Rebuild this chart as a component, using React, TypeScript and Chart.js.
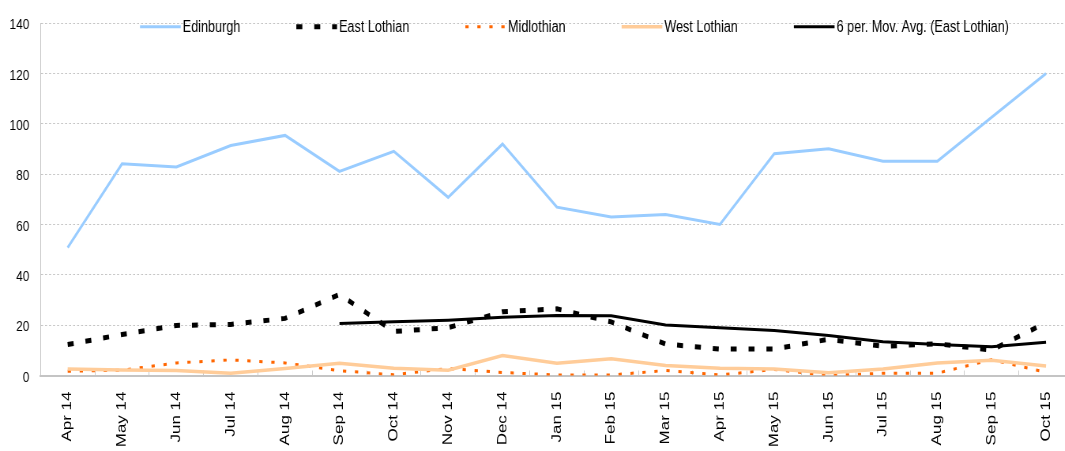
import React, { useEffect, useRef } from 'react';
import { Chart, registerables } from 'chart.js';

Chart.register(...registerables);

// ---------- data ----------
const categories = [
  'Apr 14', 'May 14', 'Jun 14', 'Jul 14', 'Aug 14', 'Sep 14', 'Oct 14', 'Nov 14', 'Dec 14',
  'Jan 15', 'Feb 15', 'Mar 15', 'Apr 15', 'May 15', 'Jun 15', 'Jul 15', 'Aug 15', 'Sep 15', 'Oct 15',
];
const edinburgh = [50.8, 84.1, 82.9, 91.4, 95.4, 81.1, 89.1, 70.8, 92.0, 66.9, 63.0, 64.0, 60.0, 88.1, 90.1, 85.1, 85.1, 102.6, 120.0];
const eastLothian = [12.3, 16.3, 19.9, 20.3, 22.7, 32.2, 17.5, 19.0, 25.3, 26.5, 21.3, 12.5, 10.5, 10.5, 14.4, 11.6, 12.6, 10.1, 21.0];
const midlothian = [1.7, 2.1, 5.0, 6.2, 5.0, 1.9, 0.3, 2.8, 1.2, 0.2, 0.2, 2.0, 0.2, 2.4, 0.0, 0.9, 0.9, 6.3, 1.3];
const westLothian = [2.6, 2.2, 2.0, 0.9, 2.8, 4.9, 2.9, 2.1, 7.9, 4.9, 6.7, 4.0, 2.9, 2.6, 1.1, 2.6, 5.0, 6.1, 3.8];
const movingAvgEast = [null, null, null, null, null, 20.7, 21.4, 22.0, 23.1, 23.8, 23.7, 20.1, 19.0, 17.9, 15.9, 13.4, 12.3, 11.4, 13.2];
const seriesLabels = ['Edinburgh', 'East Lothian', 'Midlothian', 'West Lothian', '6 per. Mov. Avg. (East Lothian)'];
const yMin = 0;
const yMax = 140;
const yStep = 20;

// ---------- layout / style ----------
const SQUISH = 0.79; // horizontal compression of the whole picture
const CANVAS_W = 1390;
const CANVAS_H = 451;
const FONT = '"Liberation Sans", Arial, sans-serif';

const u = (screenX: number) => screenX / SQUISH; // screen px -> canvas px (horizontal)

const legendPlugin = {
  id: 'customLegend',
  afterDraw(chart: any) {
    const ctx = chart.ctx as CanvasRenderingContext2D;
    ctx.save();
    ctx.font = `16px ${FONT}`;
    let x = u(140);
    const sampleW = u(40.7);
    const sampleY = 26.7;
    const baseline = 31.7;
    chart.data.datasets.forEach((ds: any) => {
      ctx.save();
      ctx.strokeStyle = ds.borderColor;
      ctx.lineWidth = ds.borderWidth;
      ctx.setLineDash(ds.borderDash || []);
      ctx.lineCap = 'butt';
      ctx.beginPath();
      ctx.moveTo(x, sampleY);
      ctx.lineTo(x + sampleW, sampleY);
      ctx.stroke();
      ctx.restore();
      x += sampleW + u(2);
      ctx.fillStyle = '#000';
      ctx.textBaseline = 'alphabetic';
      ctx.textAlign = 'left';
      ctx.fillText(ds.label, x, baseline);
      x += ctx.measureText(ds.label).width + u(56);
    });
    ctx.restore();
  },
};

export default function App() {
  const ref = useRef<HTMLCanvasElement>(null);

  useEffect(() => {
    if (!ref.current) return;
    const chart = new Chart(ref.current, {
      type: 'line',
      data: {
        labels: categories,
        datasets: [
          {
            label: seriesLabels[0],
            data: edinburgh,
            borderColor: '#99CCFF',
            backgroundColor: '#99CCFF',
            borderWidth: 3,
            order: 5,
          },
          {
            label: seriesLabels[1],
            data: eastLothian,
            borderColor: '#000000',
            backgroundColor: '#000000',
            borderWidth: 5,
            borderDash: [u(6), u(11.9)],
            order: 4,
          },
          {
            label: seriesLabels[2],
            data: midlothian,
            borderColor: '#FF6600',
            backgroundColor: '#FF6600',
            borderWidth: 3,
            borderDash: [u(3.3), u(8.7)],
            order: 3,
          },
          {
            label: seriesLabels[3],
            data: westLothian,
            borderColor: '#FFCC99',
            backgroundColor: '#FFCC99',
            borderWidth: 3.5,
            order: 2,
          },
          {
            label: seriesLabels[4],
            data: movingAvgEast,
            borderColor: '#000000',
            backgroundColor: '#000000',
            borderWidth: 3,
            order: 1,
          },
        ],
      },
      options: {
        animation: false,
        responsive: false,
        maintainAspectRatio: false,
        layout: { padding: { top: 19, right: CANVAS_W - u(1073.2), bottom: 0, left: 0 } },
        elements: { point: { radius: 0, hoverRadius: 0 }, line: { tension: 0 } },
        plugins: { legend: { display: false }, tooltip: { enabled: false } },
        scales: {
          x: {
            type: 'category',
            offset: true,
            grid: {
              display: true,
              drawOnChartArea: false,
              drawTicks: true,
              tickLength: -5,
              tickColor: '#c8c8c8',
              tickWidth: 1,
              offset: true,
            },
            border: { display: true, color: '#c4c4c4', width: 2 },
            ticks: {
              autoSkip: false,
              maxRotation: 90,
              minRotation: 90,
              padding: 21,
              color: '#000',
              font: { family: FONT, size: 17 },
            },
            afterFit(scale: any) {
              scale.height = 75.5;
            },
          },
          y: {
            min: yMin,
            max: yMax,
            ticks: {
              stepSize: yStep,
              padding: u(40.5) - u(29.3),
              color: '#000',
              labelOffset: 2,
              font: { family: FONT, size: 15 },
            },
            grid: { color: '#c4c4c4', lineWidth: 1, drawTicks: false },
            border: { display: true, color: '#c4c4c4', width: 1, dash: [u(2), u(2)] },
            afterFit(scale: any) {
              scale.width = u(40.5);
            },
          },
        },
      } as any,
      plugins: [legendPlugin],
    });
    return () => chart.destroy();
  }, []);

  return (
    <div
      style={{
        position: 'fixed',
        left: 0,
        top: 0,
        width: 1065,
        height: 451,
        overflow: 'hidden',
        background: '#fff',
      }}
    >
      <div
        style={{
          width: CANVAS_W,
          height: CANVAS_H,
          transform: `scaleX(${SQUISH})`,
          transformOrigin: '0 0',
        }}
      >
        <canvas
          ref={ref}
          width={CANVAS_W}
          height={CANVAS_H}
          style={{ width: CANVAS_W, height: CANVAS_H, display: 'block' }}
        />
      </div>
    </div>
  );
}
